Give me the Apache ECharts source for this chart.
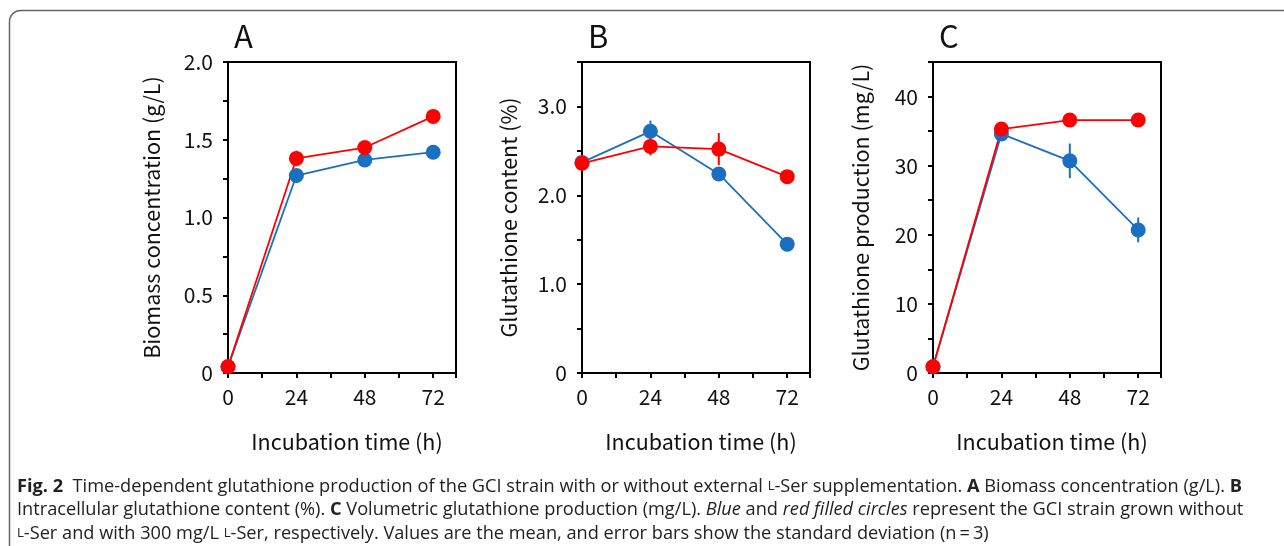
<!DOCTYPE html>
<html>
<head>
<meta charset="utf-8">
<script src="https://cdn.jsdelivr.net/npm/echarts@6/dist/echarts.min.js"></script>
<style>
html,body{margin:0;padding:0;background:#fff;}
#c{width:1284px;height:546px;}
</style>
</head>
<body>
<div id="c"></div>
<script>
// ---- data ----
const times = [0, 24, 48, 72];
const xTickLabels = ['0', '24', '48', '72'];

const biomassBlue = [0.04, 1.27, 1.37, 1.42];
const biomassBlueErr = [0.0, 0.02, 0.02, 0.02];
const biomassRed = [0.04, 1.38, 1.45, 1.65];
const biomassRedErr = [0.0, 0.05, 0.03, 0.02];

const contentBlue = [2.37, 2.72, 2.24, 1.45];
const contentBlueErr = [0.0, 0.12, 0.05, 0.03];
const contentRed = [2.36, 2.55, 2.52, 2.21];
const contentRedErr = [0.0, 0.1, 0.18, 0.03];

const prodBlue = [0.9, 34.6, 30.7, 20.7];
const prodBlueErr = [0.0, 0.8, 2.5, 1.8];
const prodRed = [0.9, 35.3, 36.6, 36.6];
const prodRedErr = [0.0, 0.8, 0.7, 0.4];

const yTicksA = ['0', '0.5', '1.0', '1.5', '2.0'];
const yTicksB = ['0', '1.0', '2.0', '3.0'];
const yTicksC = ['0', '10', '20', '30', '40'];

const BLUE = '#1a6fc0';
const RED = '#ff0000';
const AX_FONT = '"Noto Sans CJK JP", "Noto Sans", sans-serif';

const chart = echarts.init(document.getElementById('c'), null, {renderer: 'canvas'});

const panels = [
  {letter: 'A', left: 228, name: 'Biomass concentration (g/L)', max: 2, interval: 0.25, labels: yTicksA, gap: 65,
   blue: biomassBlue, blueErr: biomassBlueErr, red: biomassRed, redErr: biomassRedErr},
  {letter: 'B', left: 582, name: 'Glutathione content (%)', max: 3.5, interval: 0.5, labels: yTicksB, gap: 62,
   blue: contentBlue, blueErr: contentBlueErr, red: contentRed, redErr: contentRedErr},
  {letter: 'C', left: 933, name: 'Glutathione production (mg/L)', max: 45, interval: 5, labels: yTicksC, gap: 61,
   blue: prodBlue, blueErr: prodBlueErr, red: prodRed, redErr: prodRedErr}
];

const grids = [], xAxes = [], yAxes = [], series = [], graphics = [];

function labelFor(list) {
  return function (v) {
    for (const s of list) { if (Math.abs(parseFloat(s) - v) < 1e-6) return s; }
    return '';
  };
}

function errSeries(idx, vals, errs, color) {
  const data = times.map((t, i) => [t, vals[i], errs[i]]);
  return {
    type: 'custom', xAxisIndex: idx, yAxisIndex: idx, silent: true,
    data: data,
    renderItem: function (params, api) {
      const x = api.value(0), y = api.value(1), e = api.value(2);
      if (!(e > 0)) return null;
      const p1 = api.coord([x, y - e]);
      const p2 = api.coord([x, y + e]);
      return {type: 'line', shape: {x1: p1[0], y1: p1[1], x2: p2[0], y2: p2[1]},
              style: {stroke: color, lineWidth: 2}};
    },
    z: 3
  };
}

function lineSeries(idx, vals, color) {
  return {
    type: 'line', xAxisIndex: idx, yAxisIndex: idx, silent: true,
    data: times.map((t, i) => [t, vals[i]]),
    symbol: 'circle', symbolSize: 15, showSymbol: true,
    lineStyle: {color: color, width: 1.8},
    itemStyle: {color: color, borderWidth: 0},
    emphasis: {disabled: true}, animation: false, z: 3
  };
}

panels.forEach((p, i) => {
  grids.push({left: p.left, top: 62, width: 228, height: 311, show: true, borderColor: '#000', borderWidth: 2, backgroundColor: 'transparent'});
  xAxes.push({
    gridIndex: i, type: 'value', min: 0, max: 80, interval: 12,
    name: 'Incubation time (h)', nameLocation: 'middle', nameGap: 58,
    nameTextStyle: {fontFamily: AX_FONT, fontSize: 21.5, color: '#111', padding: [0, 0, 0, 10]},
    axisLine: {show: true, lineStyle: {color: '#000', width: 2}},
    axisTick: {show: true, inside: false, length: 5, lineStyle: {color: '#000', width: 2}},
    axisLabel: {show: true, margin: 14, fontFamily: AX_FONT, fontSize: 21, color: '#111',
      formatter: function (v) { const k = times.indexOf(v); return k >= 0 ? xTickLabels[k] : ''; }},
    splitLine: {show: false}
  });
  yAxes.push({
    gridIndex: i, type: 'value', min: 0, max: p.max, interval: p.interval,
    name: p.name, nameLocation: 'middle', nameGap: p.gap,
    nameTextStyle: {fontFamily: AX_FONT, fontSize: 21.5, color: '#111'},
    axisLine: {show: true, lineStyle: {color: '#000', width: 2}},
    axisTick: {show: true, inside: false, length: 5, lineStyle: {color: '#000', width: 2}},
    axisLabel: {show: true, margin: 15, fontFamily: AX_FONT, fontSize: 21, color: '#111', formatter: labelFor(p.labels)},
    splitLine: {show: false}
  });
  series.push(errSeries(i, p.blue, p.blueErr, BLUE));
  series.push(lineSeries(i, p.blue, BLUE));
  series.push(errSeries(i, p.red, p.redErr, RED));
  series.push(lineSeries(i, p.red, RED));
  graphics.push({type: 'text', left: p.left + 6, top: 21,
    style: {text: p.letter, fontFamily: AX_FONT, fontSize: 31, fill: '#111'}});
});

// outer rounded frame
graphics.push({type: 'rect', shape: {x: 9.5, y: 10.5, width: 1400, height: 600, r: 11},
  style: {fill: 'none', stroke: '#666', lineWidth: 1.5}, silent: true});

const CAP_FONT = '"Open Sans", "Noto Sans", sans-serif';
const CS = 18.2;
const caption =
  '{b|Fig. 2}  Time-dependent glutathione production of the GCI strain with or without external {sc|L}-Ser supplementation. {b|A} Biomass concentration (g/L). {b|B}\n' +
  'Intracellular glutathione content (%). {b|C} Volumetric glutathione production (mg/L). {i|Blue} and {i|red filled circles} represent the GCI strain grown without\n' +
  '{sc|L}-Ser and with 300 mg/L {sc|L}-Ser, respectively. Values are the mean, and error bars show the standard deviation (n\u2009=\u20093)';
graphics.push({type: 'text', left: 17, top: 475,
  style: {text: caption, fontFamily: CAP_FONT, fontSize: CS, fill: '#222', lineHeight: 23.5,
    rich: {
      b: {fontFamily: CAP_FONT, fontSize: CS, fontWeight: 'bold', fill: '#222', lineHeight: 23.5},
      i: {fontFamily: CAP_FONT, fontSize: CS, fontStyle: 'italic', fill: '#222', lineHeight: 23.5},
      sc: {fontFamily: CAP_FONT, fontSize: CS * 0.72, fill: '#222', lineHeight: 23.5}
    }}});

chart.setOption({
  animation: false,
  grid: grids, xAxis: xAxes, yAxis: yAxes, series: series, graphic: graphics
});
</script>
</body>
</html>
